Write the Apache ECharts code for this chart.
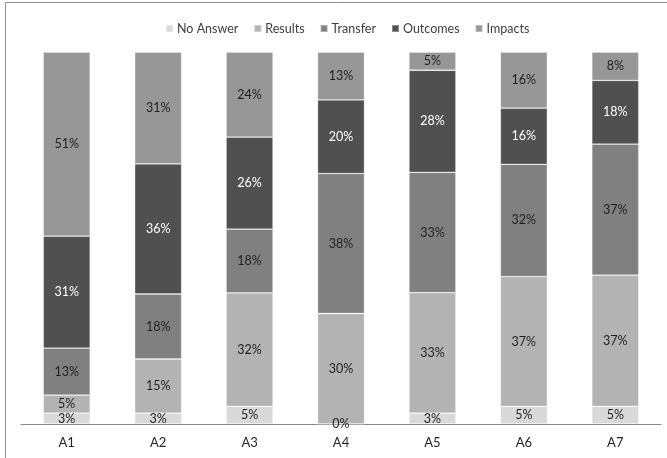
<!DOCTYPE html>
<html>
<head>
<meta charset="utf-8">
<title>Stacked distribution by area</title>
<script src="https://cdn.jsdelivr.net/npm/echarts@6/dist/echarts.min.js"></script>
<style>
  html, body { margin: 0; padding: 0; background: #ffffff; }
  #chart { width: 667px; height: 458px; }
</style>
</head>
<body>
<div id="chart"></div>
<script>
// Categories along the x axis
const categories = ['A1', 'A2', 'A3', 'A4', 'A5', 'A6', 'A7'];

// Percentages per answer group (as labelled)
const noAnswer = [3, 3, 5, 0, 3, 5, 5];
const results  = [5, 15, 32, 30, 33, 37, 37];
const transfer = [13, 18, 18, 38, 33, 32, 37];
const outcomes = [31, 36, 26, 20, 28, 16, 18];
const impacts  = [51, 31, 24, 13, 5, 16, 8];

const seriesNames = ['No Answer', 'Results', 'Transfer', 'Outcomes', 'Impacts'];
const seriesValues = [noAnswer, results, transfer, outcomes, impacts];
const seriesColors = ['#d9d9d9', '#b3b3b3', '#808080', '#4f504f', '#979797'];
const labelColors  = ['#1f1f1f', '#1f1f1f', '#1f1f1f', '#ffffff', '#1f1f1f'];

const FONT = 'Lato, "Open Sans", sans-serif';

// 100% stacked: each column is scaled to its own total
const totals = categories.map((_, i) =>
  seriesValues.reduce((s, arr) => s + arr[i], 0));

const series = seriesNames.map((name, k) => ({
  name: name,
  type: 'bar',
  stack: 'total',
  barWidth: 47,
  data: seriesValues[k].map((v, i) => ({ value: v / totals[i] * 100, raw: v })),
  itemStyle: {
    color: seriesColors[k],
    borderColor: 'rgba(255,255,255,0.35)',
    borderWidth: 0.8
  },
  label: {
    show: true,
    position: 'inside',
    color: labelColors[k],
    fontFamily: FONT,
    fontSize: 12.5,
    formatter: p => p.data.raw + '%'
  },
  emphasis: { disabled: true }
}));

const chart = echarts.init(document.getElementById('chart'), null, { renderer: 'canvas' });
chart.setOption({
  animation: false,
  backgroundColor: '#ffffff',
  graphic: [{
    type: 'rect',
    shape: { x: 5.5, y: 2.5, width: 720, height: 520 },
    style: { fill: 'none', stroke: '#8c8c8c', lineWidth: 1 },
    silent: true
  }],
  legend: {
    data: seriesNames,
    top: 17,
    left: 160,
    icon: 'rect',
    itemWidth: 7,
    itemHeight: 7,
    itemGap: 15,
    textStyle: { fontFamily: FONT, fontSize: 12.5, color: '#404040', padding: [0, 0, 0, -1] }
  },
  grid: { left: 21, right: 6, top: 52, bottom: 34, containLabel: false },
  xAxis: {
    type: 'category',
    data: categories,
    axisLine: { show: true, lineStyle: { color: '#898989', width: 1 } },
    axisTick: { show: false },
    axisLabel: { color: '#262626', fontFamily: FONT, fontSize: 13, margin: 12 }
  },
  yAxis: {
    type: 'value',
    min: 0,
    max: 100,
    show: false,
    splitLine: { show: false }
  },
  series: series
});
</script>
</body>
</html>
